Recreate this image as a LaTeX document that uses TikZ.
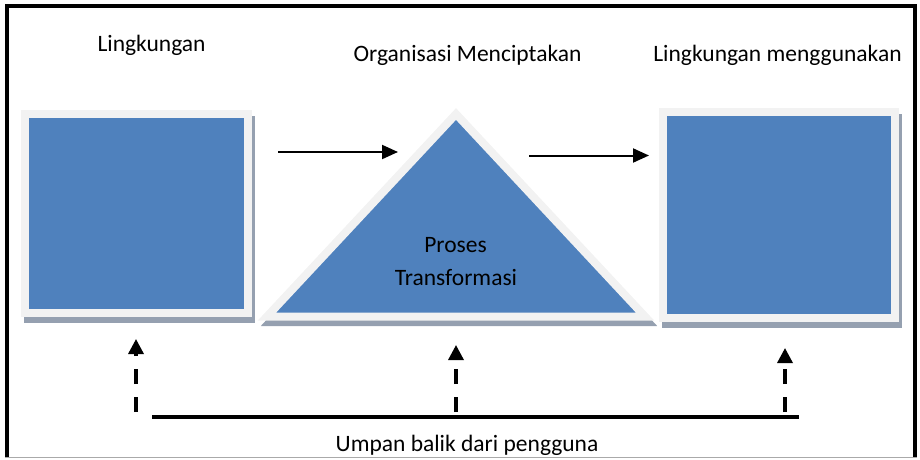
\documentclass[tikz,border=0pt]{standalone}
\usepackage{fontspec}
\setmainfont{Carlito}
\usetikzlibrary{arrows.meta,shadows}
\definecolor{panelblue}{RGB}{79,129,189}
\definecolor{panelrim}{RGB}{242,242,242}
\definecolor{panelshade}{RGB}{149,160,176}
\definecolor{pagerule}{RGB}{170,170,170}

\tikzset{
  shaded/.style={drop shadow={shadow xshift=3pt, shadow yshift=-5.5pt, opacity=1,
      fill=panelshade, draw=panelshade, line width=8pt}},
  panel/.style={rectangle, inner sep=0pt, fill=panelblue, draw=panelrim,
      line width=8pt, shaded},
  caption/.style={font=\fontsize{23.5}{28}\selectfont, anchor=base, inner sep=0pt},
  flow/.style={-{Triangle[length=16pt,width=14pt]}, line width=2pt},
  feedback/.style={-{Triangle[length=15pt,width=15pt]}, line width=3.3pt,
      dash pattern=on 15pt off 13pt},
}

\begin{document}
\begin{tikzpicture}[x=1pt, y=-1pt]
  \useasboundingbox (0,0) rectangle (920,460);

  % frame of the page
  \draw[line width=4pt] (7,458) -- (7,6) -- (915,6) -- (915,458);
  \draw[pagerule, line width=1pt] (5,457.5) -- (917,457.5);

  % the two environments
  \node[panel, minimum width=223pt, minimum height=199pt] (input) at (136.5,213.5) {};
  \node[panel, minimum width=232pt, minimum height=206pt] (output) at (779,215) {};

  % the organisation
  \draw[panelrim, fill=panelblue, line width=8pt, line join=miter, shaded]
    (456,114) -- (645,316.5) -- (267,316.5) -- cycle;
  \coordinate (apex) at (456,114);
  \node[caption] (proses) at (455.5,252) {Proses};
  \node[caption] (transformasi) at (456,285) {Transformasi};

  % titles
  \node[caption] (t-input) at (151.5,52) {Lingkungan};
  \node[caption] (t-org) at (467.5,62) {Organisasi Menciptakan};
  \node[caption] (t-output) at (777.5,62) {Lingkungan menggunakan};

  % flow through the organisation
  \coordinate (f1a) at (278,152);
  \coordinate (f1b) at (398,152);
  \coordinate (f2a) at (529,155.5);
  \coordinate (f2b) at (649,155.5);
  \draw[flow] (f1a) -- (f1b);
  \draw[flow] (f2a) -- (f2b);

  % feedback from the users
  \coordinate (fbl) at (152,417);
  \coordinate (fbr) at (799,417);
  \draw[line width=3.5pt] (fbl) -- (fbr);
  \coordinate (u1) at (136,412);
  \coordinate (u2) at (456,412);
  \coordinate (u3) at (785,412);
  \draw[feedback] (u1) -- (136,339);
  \draw[feedback] (u2) -- (456,345);
  \draw[feedback] (u3) -- (785,348);
  \node[caption] (umpan) at (467,451) {Umpan balik dari pengguna};
\end{tikzpicture}
\end{document}
